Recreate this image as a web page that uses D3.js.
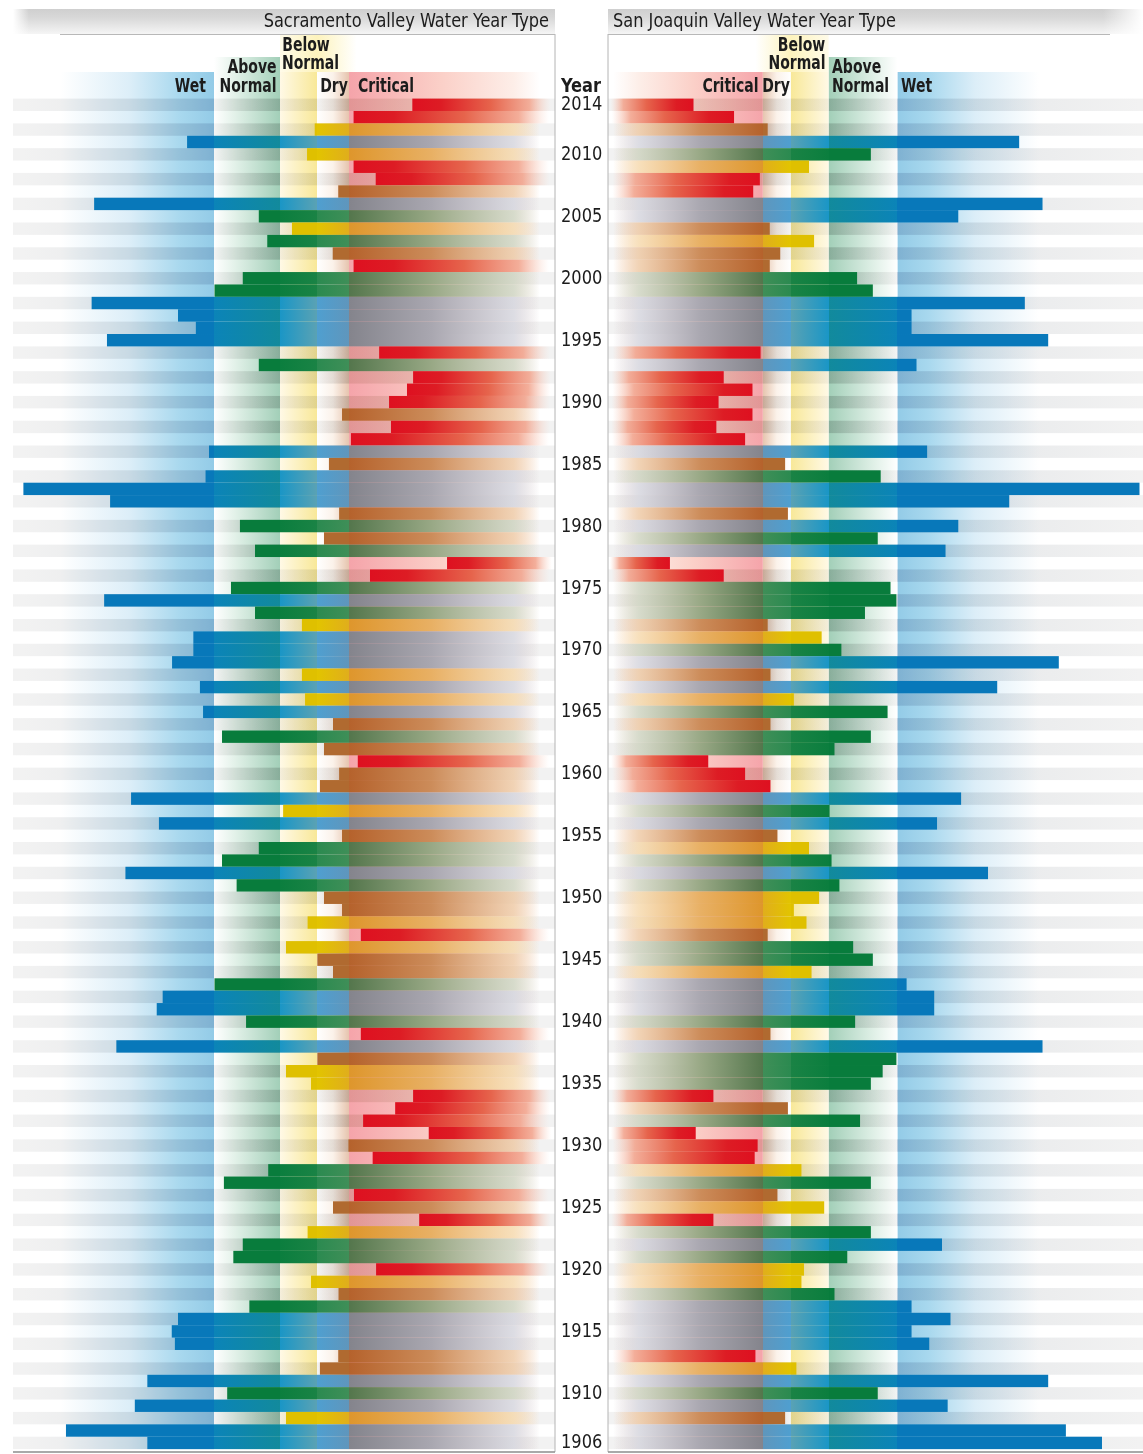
<!DOCTYPE html>
<html>
<head>
<meta charset="utf-8">
<script src="https://cdn.jsdelivr.net/npm/d3@7"></script>
<style>
  html, body { margin: 0; background: #fff; }
  svg { display: block; }
  text { font-family: "Liberation Sans Narrow", "DejaVu Sans Condensed", "Noto Sans", sans-serif; fill: #1c1c1c; }
</style>
</head>
<body>
<svg id="chart" width="1143" height="1454"></svg>
<script>
// water years, newest first
const years = d3.range(2014, 1905, -1);
const yearTicks = [2014, 2010, 2005, 2000, 1995, 1990, 1985, 1980, 1975, 1970, 1965, 1960, 1955, 1950, 1945, 1940, 1935, 1930, 1925, 1920, 1915, 1910, 1906];

const sacramentoIndex = [
  3.74, 5.28, 6.58, 10.06, 6.85, 5.28, 4.70, 5.77, 13.03, 8.25, 7.38, 8.07, 5.96, 5.28, 8.59,
  9.19, 13.11, 10.35, 9.78, 12.62, 4.61, 8.25, 3.72, 3.88, 4.35, 5.64, 4.30, 5.35, 9.36, 6.09,
  9.47, 15.29, 12.52, 5.74, 8.65, 6.26, 8.33, 2.83, 4.85, 8.84, 12.71, 8.33, 7.03, 9.86, 9.86,
  10.54, 7.03, 9.65, 6.92, 9.55, 5.95, 9.03, 6.26, 5.17, 5.74, 6.40, 11.85, 7.69, 10.96, 5.64,
  8.25, 9.03, 12.03, 8.72, 6.26, 5.64, 6.83, 5.09, 7.59, 6.49, 5.95, 9.19, 10.84, 11.03, 8.52,
  5.09, 12.32, 6.49, 7.59, 6.71, 3.72, 4.19, 5.03, 3.31, 5.42, 4.78, 8.05, 8.99, 5.27, 5.95,
  3.56, 6.83, 8.59, 8.79, 4.69, 6.71, 5.76, 8.45, 10.35, 10.55, 10.45, 5.77, 6.40, 11.33, 8.92,
  11.73, 7.59, 13.93, 11.33
];
const sanJoaquinIndex = [
  1.16, 1.71, 2.17, 5.52, 3.53, 2.79, 2.06, 1.97, 5.85, 4.66, 2.20, 2.87, 2.35, 2.20, 3.39,
  3.55, 5.60, 4.00, 4.00, 5.93, 2.07, 4.07, 1.57, 1.96, 1.50, 1.96, 1.47, 1.86, 4.22, 2.42,
  3.63, 7.22, 5.38, 2.46, 4.66, 3.60, 4.48, 0.84, 1.57, 3.73, 3.79, 3.47, 2.17, 2.99, 3.23,
  6.08, 2.21, 5.21, 2.55, 3.70, 2.21, 3.53, 3.16, 1.36, 1.86, 2.21, 4.70, 3.11, 4.36, 2.31,
  2.79, 3.13, 5.08, 3.21, 2.95, 2.55, 2.75, 2.17, 3.35, 3.55, 2.83, 3.93, 4.32, 4.32, 3.37,
  2.21, 5.85, 3.79, 3.65, 3.53, 1.43, 2.46, 3.42, 1.19, 2.03, 1.99, 2.67, 3.53, 2.31, 3.03,
  1.43, 3.53, 4.43, 3.29, 2.71, 2.67, 3.16, 4.00, 4.55, 4.00, 4.25, 2.00, 2.59, 5.93, 3.60,
  4.51, 2.42, 6.18, 6.69
];

// class limits of each index: critical/dry, dry/below, below/above, above/wet
const sacramentoLimits = [5.4, 6.5, 7.8, 9.2];
const sanJoaquinLimits = [2.1, 2.5, 3.1, 3.8];
const typeNames = ["critical", "dry", "below", "above", "wet"];
// 1959 San Joaquin is drawn as critical though it ends inside the dry band
const sanJoaquinTypeFixes = new Map([[1959, "critical"]]);

const panels = [
  {
    id: "sac", values: sacramentoIndex, limits: sacramentoLimits, fixes: new Map(),
    domain: [0, ...sacramentoLimits, 15.29], range: [555, 349, 317, 280, 214, 23.4],
    edgeX: [13, 555], fadeEnd: 0.4, wetFade: 14.1, belowFade: 5.2,
    title: "Sacramento Valley Water Year Type", titleX: 549, titleAnchor: "end",
    labels: [
      ["Wet", 206, 85, "end"], ["Above", 252, 66.5, "middle"], ["Normal", 248, 85, "middle"],
      ["Below", 306, 44, "middle"], ["Normal", 310.5, 62.5, "middle"], ["Dry", 334, 85, "middle"], ["Critical", 358, 85, "start"]
    ]
  },
  {
    id: "sj", values: sanJoaquinIndex, limits: sanJoaquinLimits, fixes: sanJoaquinTypeFixes,
    domain: [0, ...sanJoaquinLimits, 7.22], range: [608, 762.8, 790.7, 828.6, 897.4, 1139.5],
    edgeX: [608, 1143], fadeEnd: 0.07, wetFade: 5.8, belowFade: 2.0,
    title: "San Joaquin Valley Water Year Type", titleX: 613, titleAnchor: "start",
    labels: [
      ["Critical", 758.5, 85, "end"], ["Dry", 776, 85, "middle"], ["Below", 801.5, 44, "middle"],
      ["Normal", 797, 62.5, "middle"], ["Above", 832, 66.5, "start"], ["Normal", 832, 85, "start"], ["Wet", 901, 85, "start"]
    ]
  }
];

const svg = d3.select("#chart");
const defs = svg.append("defs");
const y = d3.scaleBand().domain(years).range([98.6, 1449.1]);

// squeeze the installed fonts to the condensed width of the original lettering
function condense(selection, factor) {
  selection
    .attr("textLength", function () { return this.getComputedTextLength() * factor; })
    .attr("lengthAdjust", "spacingAndGlyphs");
}

// gradient running along a panel, stops given as [index value, colour, opacity]
function indexGradient(id, scale, stops) {
  const maxValue = scale.domain()[scale.domain().length - 1];
  const x1 = scale(maxValue);
  const x2 = scale(0);
  const grad = defs.append("linearGradient").attr("id", id)
    .attr("gradientUnits", "userSpaceOnUse")
    .attr("x1", x1).attr("x2", x2).attr("y1", 0).attr("y2", 0);
  stops.forEach(([value, color, opacity]) => {
    grad.append("stop")
      .attr("offset", (scale(value) - x1) / (x2 - x1))
      .attr("stop-color", color)
      .attr("stop-opacity", opacity === undefined ? 1 : opacity);
  });
  return `url(#${id})`;
}

function barStops(type, limits, fadeEnd) {
  const [c, d, b, a] = limits;
  const tail = (c1, c2, c3) => [[c, c1], [c * 0.6, c2], [c * 0.2, c3, 0.8], [fadeEnd, c3, 0]];
  if (type === "wet") {
    return [[a * 2, "#0878ba"], [a, "#0878ba"], [a, "#0b84b8"], [b, "#128a9c"], [b, "#1a96c6"], [d, "#5aa2b4"],
      [d, "#4f9fd0"], [c, "#5f96bc"], [c, "#84848c"], ...tail("#84848c", "#a9a7b0", "#d4d8e2")];
  }
  if (type === "above") {
    return [[b * 2, "#087c3c"], [b, "#087c3c"], [b, "#0b7e3e"], [d, "#1a8345"], [d, "#2b8a50"], [c, "#3f8f58"],
      [c, "#54764c"], ...tail("#54764c", "#98a885", "#cdd6c4")];
  }
  if (type === "below") {
    return [[d * 2, "#dfc000"], [d, "#dfc000"], [d, "#e2c400"], [c, "#e0ae1c"], [c, "#de962c"],
      ...tail("#de962c", "#e8b064", "#f6dcb0")];
  }
  // dry
  return [[c * 2, "#b06a30"], [c, "#b06a30"], [c, "#b5622c"], ...tail("#b5622c", "#cc8c5a", "#eecca8")];
}

// critical bars fade from their own tip, so these run across each bar
function redGradient(id, reversed) {
  const grad = defs.append("linearGradient").attr("id", id)
    .attr("x1", reversed ? 1 : 0).attr("x2", reversed ? 0 : 1).attr("y1", 0).attr("y2", 0);
  [[0, "#de1020", 1], [0.2, "#dd1c24", 1], [0.55, "#e6644c", 1], [0.82, "#f2a690", 0.9], [0.97, "#f8d0c0", 0]].forEach(([o, c, a]) => {
    grad.append("stop").attr("offset", o).attr("stop-color", c).attr("stop-opacity", a);
  });
  return `url(#${id})`;
}

// soft ends of the two header strips
function fadeGradient(id, reversed) {
  const grad = defs.append("linearGradient").attr("id", id)
    .attr("x1", reversed ? 1 : 0).attr("x2", reversed ? 0 : 1).attr("y1", 0).attr("y2", 0);
  grad.append("stop").attr("offset", 0).attr("stop-color", "#fff");
  grad.append("stop").attr("offset", 1).attr("stop-color", "#fff").attr("stop-opacity", 0);
  return `url(#${id})`;
}

panels.forEach((panel) => {
  const scale = d3.scaleLinear().domain(panel.domain).range(panel.range);
  const type = d3.scaleThreshold().domain(panel.limits).range(typeNames);
  const [c, d, b, a] = panel.limits;
  const g = svg.append("g").attr("class", panel.id);
  const isLeft = panel.id === "sac";
  const bottom = y.range()[1];

  // header strip
  const headId = `${panel.id}-head`;
  const head = defs.append("linearGradient").attr("id", headId).attr("x1", 0).attr("x2", 0).attr("y1", 0).attr("y2", 1);
  head.append("stop").attr("offset", 0).attr("stop-color", "#cfcfcf");
  head.append("stop").attr("offset", 0.35).attr("stop-color", "#d8d8d8");
  head.append("stop").attr("offset", 1).attr("stop-color", "#f5f5f5");
  g.append("rect").attr("x", panel.edgeX[0]).attr("y", 9).attr("width", panel.edgeX[1] - panel.edgeX[0]).attr("height", 25)
    .attr("fill", `url(#${headId})`);
  const fadeWidth = isLeft ? 16 : 40;
  g.append("rect")
    .attr("x", isLeft ? panel.edgeX[0] : panel.edgeX[1] - fadeWidth).attr("y", 9).attr("width", fadeWidth).attr("height", 26)
    .attr("fill", fadeGradient(`${panel.id}-headfade`, !isLeft));

  // class bands behind the bars
  const bands = [
    { id: "wet", from: panel.wetFade, to: a, top: 72, stops: [[panel.wetFade, "#ffffff"], [a + (panel.wetFade - a) * 0.55, "#dceef8"], [a + (panel.wetFade - a) * 0.22, "#a8d8ee"], [a, "#93cbe7"]] },
    { id: "above", from: a, to: b, top: 57, stops: [[a, "#ffffff"], [a - (a - b) * 0.3, "#e4f2ea"], [b, "#a2cfb8"]] },
    { id: "below", from: b, to: d, top: 72, stops: [[b, "#fff9e6"], [d, "#f8e898"]] },
    { id: "dry", from: d, to: c, top: 72, stops: [[d, "#ffffff"], [c + (d - c) * 0.5, "#fbf2ea"], [c, "#e6c4ae"]] },
    { id: "critical", from: c, to: panel.fadeEnd, top: 72, stops: [[c, "#f5a4aa"], [c * 0.55, "#fbd0c8"], [c * 0.2, "#fdeee8"], [panel.fadeEnd, "#ffffff"]] }
  ];
  bands.forEach((band) => {
    const fill = indexGradient(`${panel.id}-band-${band.id}`, scale, band.stops);
    const x0 = scale(band.from);
    const x1 = scale(band.to);
    g.append("rect")
      .attr("x", Math.min(x0, x1)).attr("width", Math.abs(x1 - x0))
      .attr("y", band.top).attr("height", bottom - band.top)
      .attr("fill", fill);
  });
  // the below normal tab reaches up beside its two line label
  const tabFill = indexGradient(`${panel.id}-band-tab`, scale, [[b, "#fffbe9"], [d, "#fdf3bd"], [panel.belowFade, "#ffffff"]]);
  const tabX = [scale(b), scale(panel.belowFade)];
  g.append("rect")
    .attr("x", Math.min(...tabX)).attr("width", Math.abs(tabX[1] - tabX[0]))
    .attr("y", 35).attr("height", 37)
    .attr("fill", tabFill);

  // alternating rows, multiplied over the bands
  const stripeFill = indexGradient(`${panel.id}-stripe`, scale, [
    [panel.domain[5], "#f2f2f2"], [a + (panel.wetFade - a) * 0.45, "#e6e8ea"], [a, "#dcdfe8"], [a, "#f4f4f4"], [b, "#d6d6d6"],
    [b, "#f4f4f4"], [d, "#e8e8e8"], [d, "#f4f4f4"], [c, "#dcdcdc"], [c, "#ece8e0"], [panel.fadeEnd, "#f2f2f2"]
  ]);
  g.append("g").style("mix-blend-mode", "multiply")
    .selectAll("rect")
    .data(years.filter((yr) => yr % 2 === 0))
    .join("rect")
    .attr("x", panel.edgeX[0]).attr("width", panel.edgeX[1] - panel.edgeX[0])
    .attr("y", (yr) => y(yr)).attr("height", y.bandwidth())
    .attr("fill", stripeFill);

  // bars, from the tip in towards the year column
  const fills = { critical: redGradient(`${panel.id}-critical`, !isLeft) };
  ["dry", "below", "above", "wet"].forEach((t) => {
    fills[t] = indexGradient(`${panel.id}-${t}`, scale, barStops(t, panel.limits, panel.fadeEnd));
  });
  g.selectAll(".bar")
    .data(panel.values.map((value, i) => ({ year: years[i], value })))
    .join("rect")
    .attr("class", "bar")
    .attr("x", (row) => Math.min(scale(row.value), scale(0)))
    .attr("width", (row) => Math.abs(scale(row.value) - scale(0)))
    .attr("y", (row) => y(row.year))
    .attr("height", y.bandwidth())
    .attr("fill", (row) => fills[panel.fixes.get(row.year) || type(row.value)]);

  // frame
  const frameX = scale(0);
  g.append("line").attr("x1", frameX).attr("x2", frameX).attr("y1", 34).attr("y2", 1452).attr("stroke", "#b4b4b4").attr("stroke-width", 1);
  g.append("line").attr("x1", isLeft ? 60 : panel.edgeX[0]).attr("x2", isLeft ? panel.edgeX[1] : 1110).attr("y1", 34.5).attr("y2", 34.5).attr("stroke", "#b8b8b8").attr("stroke-width", 1);
  g.append("line").attr("x1", panel.edgeX[0]).attr("x2", panel.edgeX[1]).attr("y1", 1452).attr("y2", 1452).attr("stroke", "#8c8c8c").attr("stroke-width", 1.6);

  // text
  g.append("text").attr("x", panel.titleX).attr("y", 27).attr("text-anchor", panel.titleAnchor)
    .style("font-size", "20px").text(panel.title).call(condense, 0.9);
  g.selectAll(".class-label")
    .data(panel.labels)
    .join("text")
    .attr("class", "class-label")
    .attr("x", (l) => l[1]).attr("y", (l) => l[2] + 6.5)
    .attr("text-anchor", (l) => l[3])
    .style("font-size", "19px").style("font-weight", 700)
    .text((l) => l[0])
    .call(condense, 0.82);
});

// year column between the panels
const yearAxis = svg.append("g");
yearAxis.append("text").attr("x", 561).attr("y", 91.5).style("font-size", "19px").style("font-weight", 700).text("Year").call(condense, 0.95);
yearAxis.selectAll(".year-label")
  .data(yearTicks)
  .join("text")
  .attr("class", "year-label")
  .attr("x", 561)
  .attr("y", (yr) => y(yr) + y.bandwidth() / 2 + 5.5)
  .style("font-size", "19px")
  .text((yr) => yr)
  .call(condense, 0.95);
</script>
</body>
</html>
